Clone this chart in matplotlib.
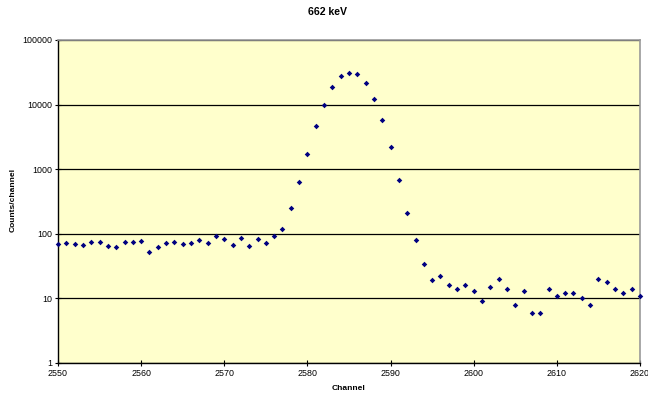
import matplotlib
matplotlib.use("Agg")
import matplotlib.pyplot as plt
from matplotlib.ticker import FixedLocator, NullLocator

plt.rcParams['font.family'] = ['Liberation Sans', 'DejaVu Sans']

channels = list(range(2550, 2621))
counts = [
    70, 73, 70, 66, 75, 74, 65, 63, 74, 74,
    77, 52, 63, 73, 75, 69, 72, 79, 72, 93,
    84, 67, 87, 65, 84, 73, 93, 119, 250, 640,
    1720, 4600, 10000, 18700, 27400, 31200, 29800, 21600, 12300, 5700,
    2180, 680, 210, 79, 34, 19, 22, 16, 14, 16,
    13, 9, 15, 20, 14, 8, 13, 6, 6, 14,
    11, 12, 12, 10, 8, 20, 18, 14, 12, 14,
    11,
]
x_ticks = [2550, 2560, 2570, 2580, 2590, 2600, 2610, 2620]
y_ticks = [1, 10, 100, 1000, 10000, 100000]
y_tick_labels = ["1", "10", "100", "1000", "10000", "100000"]

fig = plt.figure(figsize=(6.48, 3.96), dpi=100)
ax = fig.add_axes([58 / 648, 1 - 363 / 396, (640 - 58) / 648, (363 - 40) / 396])
ax.set_facecolor("#FFFFCC")

ax.scatter(channels, counts, marker="D", s=8, color="#000080", linewidths=0,
           zorder=3, clip_on=False)

ax.set_yscale("log")
ax.set_xlim(2550, 2620)
ax.set_ylim(1, 100000)
ax.xaxis.set_major_locator(FixedLocator(x_ticks))
ax.yaxis.set_major_locator(FixedLocator(y_ticks))
ax.yaxis.set_minor_locator(NullLocator())
ax.set_yticklabels(y_tick_labels)
ax.set_xticklabels([str(t) for t in x_ticks])

ax.grid(True, axis="y", which="major", color="black", linewidth=0.9)
ax.set_axisbelow(True)

ax.tick_params(axis="both", which="major", direction="inout", length=4,
               width=0.8, labelsize=6.4, pad=2, color="black")

for side in ("left", "bottom"):
    ax.spines[side].set_color("black")
    ax.spines[side].set_linewidth(1.0)
for side in ("top", "right"):
    ax.spines[side].set_color("#999999")
    ax.spines[side].set_linewidth(1.2)

fig.text(328 / 648, 1 - 12 / 396, "662 keV", ha="center", va="center",
         fontsize=7.6, fontweight="bold")
fig.text(349 / 648, 1 - 389 / 396, "Channel", ha="center", va="center",
         fontsize=6.0, fontweight="bold")
fig.text(13 / 648, 1 - 200 / 396, "Counts/channel", ha="center", va="center",
         rotation=90, fontsize=6.0, fontweight="bold")

fig.savefig("out.png", dpi=100)
